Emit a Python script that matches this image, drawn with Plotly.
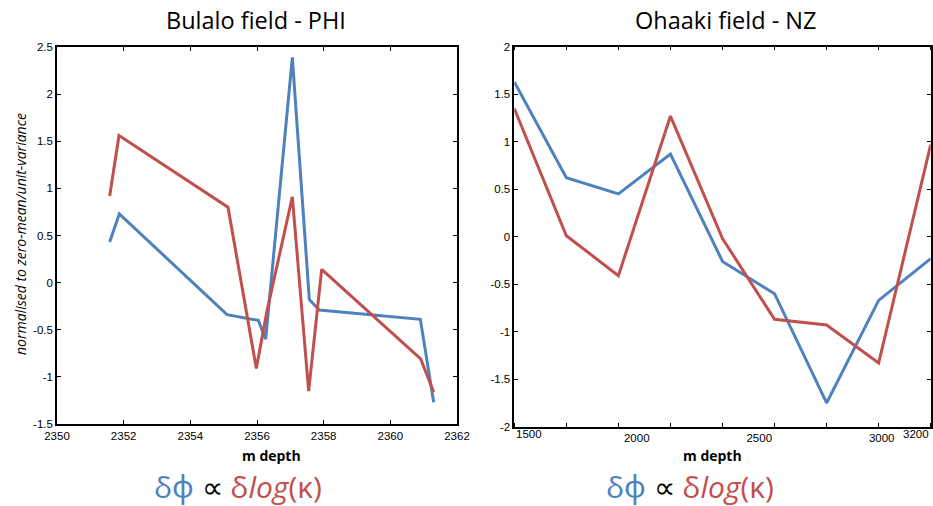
import plotly.graph_objects as go

# ---- data ----
bulalo_depth_blue = [2351.58, 2351.87, 2355.1, 2356.04, 2356.26, 2357.06, 2357.57, 2357.87, 2360.9, 2361.3]
bulalo_phi = [0.43, 0.73, -0.34, -0.40, -0.60, 2.39, -0.18, -0.29, -0.39, -1.27]
bulalo_depth_red = [2351.58, 2351.86, 2355.13, 2355.98, 2356.3, 2357.06, 2357.55, 2357.94, 2360.91, 2361.3]
bulalo_logk = [0.92, 1.56, 0.80, -0.91, -0.30, 0.91, -1.15, 0.14, -0.81, -1.16]

ohaaki_depth = [1500, 1712.5, 1925, 2137.5, 2350, 2562.5, 2775, 2987.5, 3200]
ohaaki_phi = [1.63, 0.62, 0.45, 0.87, -0.26, -0.60, -1.75, -0.67, -0.23]
ohaaki_logk = [1.35, 0.01, -0.41, 1.27, -0.02, -0.87, -0.93, -1.33, 0.97]

left_xticks = [2350, 2352, 2354, 2356, 2358, 2360, 2362]
left_yticks = [-1.5, -1, -0.5, 0, 0.5, 1, 1.5, 2, 2.5]
right_xticks = [2000, 2500, 3000]
right_yticks = [-2, -1.5, -1, -0.5, 0, 0.5, 1, 1.5, 2]

BLUE = "#4F81BD"
RED = "#C0504D"
W, H = 933, 506

fig = go.Figure()
fig.add_trace(go.Scatter(x=bulalo_depth_blue, y=bulalo_phi, mode="lines",
                         line=dict(color=BLUE, width=3), xaxis="x", yaxis="y", showlegend=False))
fig.add_trace(go.Scatter(x=bulalo_depth_red, y=bulalo_logk, mode="lines",
                         line=dict(color=RED, width=3), xaxis="x", yaxis="y", showlegend=False))
fig.add_trace(go.Scatter(x=ohaaki_depth, y=ohaaki_phi, mode="lines",
                         line=dict(color=BLUE, width=3), xaxis="x2", yaxis="y2", showlegend=False))
fig.add_trace(go.Scatter(x=ohaaki_depth, y=ohaaki_logk, mode="lines",
                         line=dict(color=RED, width=3), xaxis="x2", yaxis="y2", showlegend=False))

tickfont = dict(family="Liberation Sans, Arial", size=11.5, color="black")
common = dict(showgrid=False, zeroline=False, showline=True, linecolor="black", linewidth=1.5,
              mirror="allticks", ticklen=4, tickcolor="black", tickfont=tickfont,
              automargin=False)

l0, l1 = 57 / W, 457 / W
r0, r1 = 514.3 / W, 930.7 / W
fig.update_layout(
    width=W, height=H, margin=dict(l=0, r=0, t=0, b=0, pad=0),
    plot_bgcolor="white", paper_bgcolor="white",
    xaxis=dict(domain=[l0, l1], range=[2350, 2362], tickvals=left_xticks, anchor="y",
               ticks="inside", **common),
    yaxis=dict(domain=[1 - 424 / H, 1 - 47 / H], range=[-1.5, 2.5], tickvals=left_yticks,
               ticktext=[f"{v:g}" for v in left_yticks], anchor="x", ticks="inside", **common),
    xaxis2=dict(domain=[r0, r1], range=[1500, 3200], tickvals=right_xticks, anchor="y2",
                minor=dict(tickvals=ohaaki_depth, ticks="inside", ticklen=4, tickcolor="black"),
                ticks="", **common),
    yaxis2=dict(domain=[1 - 426.7 / H, 1 - 46.7 / H], range=[-2, 2], tickvals=right_yticks,
                ticktext=[f"{v:g}" for v in right_yticks], anchor="x2", ticks="inside", **common),
)

title_font = dict(family="Open Sans, Noto Sans", size=23.5, color="black")
ann = []
ann.append(dict(text="Bulalo field - PHI", x=256 / W, y=1 - 20 / H, xref="paper", yref="paper",
                showarrow=False, font=title_font, xanchor="center", yanchor="middle"))
ann.append(dict(text="Ohaaki field - NZ", x=725 / W, y=1 - 20 / H, xref="paper", yref="paper",
                showarrow=False, font=title_font, xanchor="center", yanchor="middle"))
ann.append(dict(text="<i>normalised to zero-mean/unit-variance</i>", x=20 / W, y=1 - 234 / H,
                xref="paper", yref="paper", showarrow=False, textangle=-90,
                font=dict(family="Open Sans, Noto Sans", size=14, color="black"),
                xanchor="center", yanchor="middle"))
for cx in (271, 712):
    ann.append(dict(text="<b>m depth</b>", x=cx / W, y=1 - 455 / H, xref="paper", yref="paper",
                    showarrow=False, font=dict(family="Open Sans, Noto Sans", size=14, color="black"),
                    xanchor="center", yanchor="middle", borderpad=0))
formula = (f"<span style='color:{BLUE}'>δϕ</span> ∝ "
           f"<span style='color:{RED}'>δ<i>log</i>(κ)</span>")
for cx in (238, 690):
    ann.append(dict(text=formula, x=cx / W, y=1 - 486 / H, xref="paper", yref="paper",
                    showarrow=False, font=dict(family="Open Sans, Noto Sans", size=30, color="black"),
                    xanchor="center", yanchor="middle", borderpad=0))
# end tick labels of the right x-axis, kept inside the frame
ann.append(dict(text="1500", x=1500, xref="x2", y=1 - 434 / H, yref="paper", showarrow=False,
                font=tickfont, xanchor="left", yanchor="middle"))
ann.append(dict(text="3200", x=3200, xref="x2", y=1 - 434 / H, yref="paper", showarrow=False,
                font=tickfont, xanchor="right", yanchor="middle"))
fig.update_layout(annotations=ann)

fig.write_html("out.html", config={"displayModeBar": False},
               post_script="document.body.style.margin='0px';document.body.style.overflow='hidden';")
